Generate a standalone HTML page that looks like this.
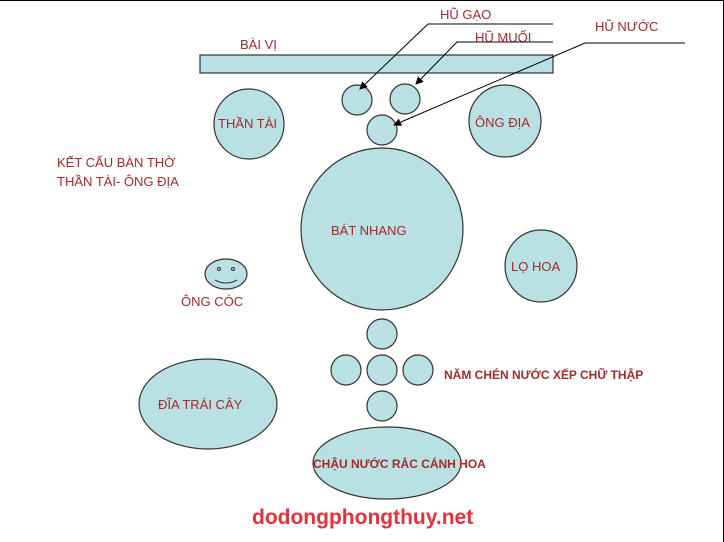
<!DOCTYPE html>
<html><head><meta charset="utf-8"><style>
html,body{margin:0;padding:0;background:#fff;}
svg{display:block;}
text{font-family:"Liberation Sans",Arial,sans-serif;fill:#a52a2a;font-size:13px;}
</style></head><body>
<svg width="724" height="542" viewBox="0 0 724 542" xmlns="http://www.w3.org/2000/svg">
<defs><marker id="a" markerWidth="8" markerHeight="8" refX="7" refY="4" orient="auto" markerUnits="userSpaceOnUse"><path d="M0,0 L8,4 L0,8 z" fill="#000"/></marker></defs>
<rect x="0" y="0" width="724" height="542" fill="#fff"/>
<line x1="0" y1="0.5" x2="724" y2="0.5" stroke="#000"/>
<line x1="723.5" y1="0" x2="723.5" y2="542" stroke="#000"/>
<g fill="#b9e0e3" stroke="#333" stroke-width="1.2">
<rect x="200" y="55" width="353" height="18"/>
<circle cx="357" cy="100" r="15"/>
<circle cx="405" cy="99" r="15"/>
<circle cx="382" cy="130" r="15"/>
<circle cx="249" cy="124" r="35"/>
<circle cx="505" cy="121" r="36"/>
<circle cx="382" cy="229" r="81"/>
<circle cx="541" cy="266" r="36"/>
<ellipse cx="226" cy="274" rx="21" ry="15"/>
<circle cx="382" cy="334" r="15"/>
<circle cx="346" cy="370" r="15"/>
<circle cx="382" cy="370" r="15"/>
<circle cx="418" cy="370" r="15"/>
<circle cx="382" cy="406" r="15"/>
<ellipse cx="208" cy="404" rx="69" ry="45"/>
<ellipse cx="387" cy="463" rx="74" ry="36"/>
</g>
<circle cx="219" cy="269" r="1.5" fill="none" stroke="#333"/>
<circle cx="233" cy="269" r="1.5" fill="none" stroke="#333"/>
<path d="M215,280 Q226,286 237,280" fill="none" stroke="#333"/>
<g stroke="#000" stroke-width="1" fill="none">
<polyline points="553,24 428,24 360,89" marker-end="url(#a)"/>
<polyline points="553,42 457,42 416,84" marker-end="url(#a)"/>
<polyline points="685,43 585,43 394,125" marker-end="url(#a)"/>
</g>
<text x="240" y="49">BÀI VỊ</text>
<text x="440" y="19">HŨ GẠO</text>
<text x="475" y="42">HŨ MUỐI</text>
<text x="595" y="31">HŨ NƯỚC</text>
<text x="218" y="128">THẦN TÀI</text>
<text x="475" y="127">ÔNG ĐỊA</text>
<text x="57" y="167">KẾT CẤU BÀN THỜ</text>
<text x="57" y="186">THẦN TÀI- ÔNG ĐỊA</text>
<text x="331" y="235">BÁT NHANG</text>
<text x="511" y="271">LỌ HOA</text>
<text x="181" y="306">ÔNG CÓC</text>
<text x="158" y="409">ĐĨA TRÁI CÂY</text>
<text x="444" y="379" style="font-size:12px;font-weight:bold">NĂM CHÉN NƯỚC XẾP CHỮ THẬP</text>
<text x="313" y="468" style="font-size:12px;font-weight:bold">CHẬU NƯỚC RẮC CÁNH HOA</text>
<text x="252" y="524" style="font-size:21px;font-weight:bold;fill:#e8303a">dodongphongthuy.net</text>
</svg>
</body></html>
